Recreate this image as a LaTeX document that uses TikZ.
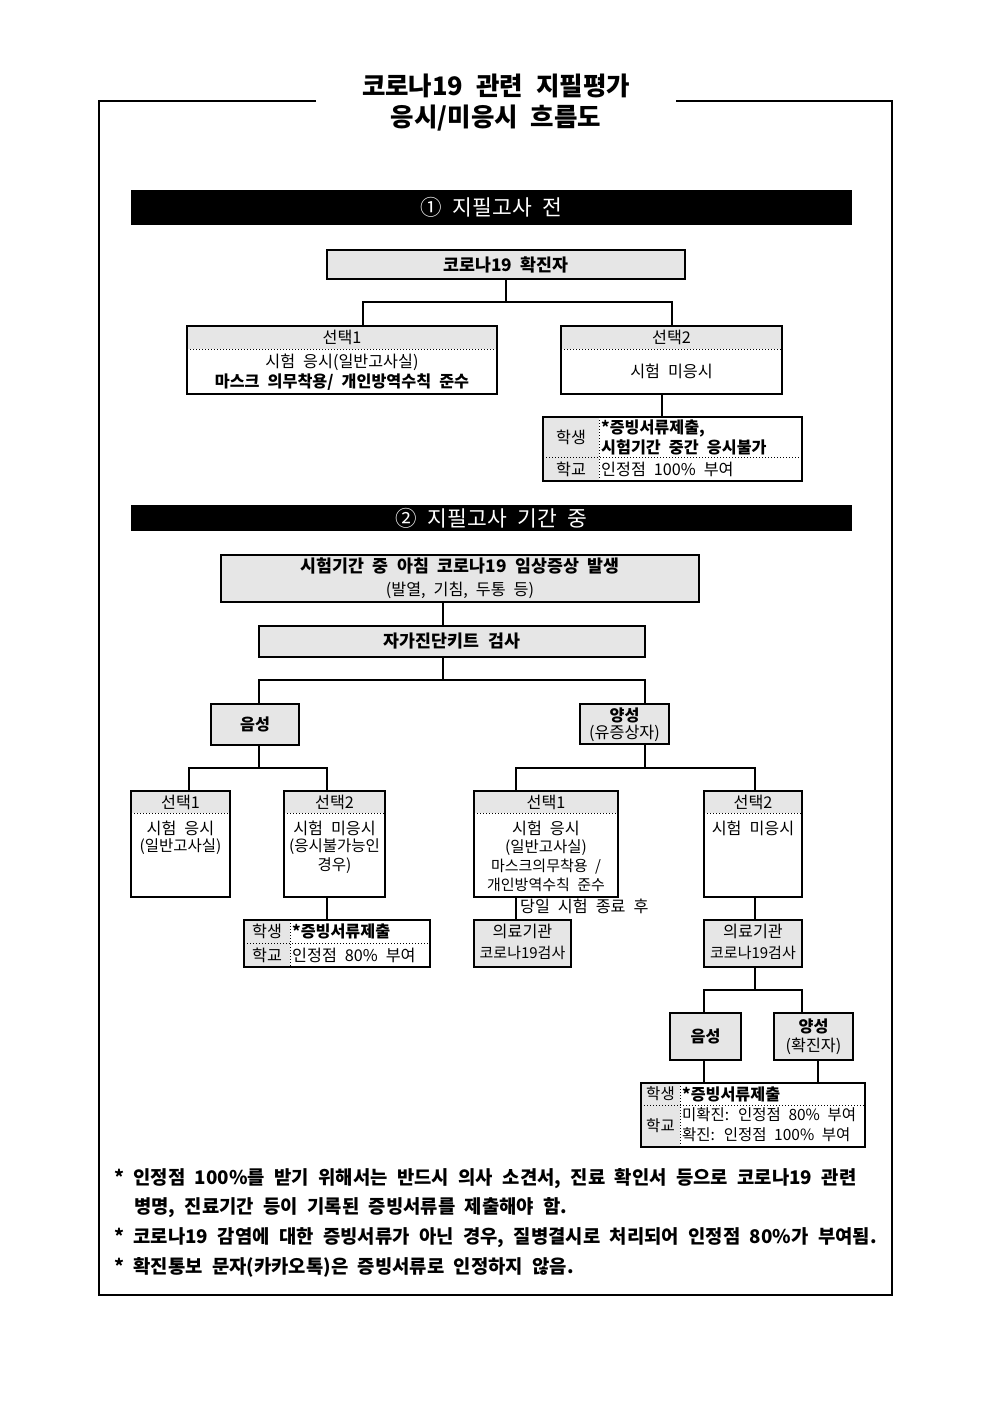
\documentclass[tikz,border=0pt]{standalone}
\usepackage{fontspec}
\setmainfont{Noto Sans CJK KR}[WordSpace=2.2]
\definecolor{bg}{HTML}{E6E6E6}
\begin{document}
\begin{tikzpicture}[x=1pt,y=-1pt,
 bx/.style={draw, line width=2.2pt, inner sep=0pt},
 gbx/.style={bx, fill=bg},
 conn/.style={line width=2pt},
 dots/.style={line width=1pt, dash pattern=on 1.2pt off 1.8pt},
 t/.style={inner sep=0pt, font=\fontsize{16.2}{19}\selectfont},
 tn/.style={inner sep=0pt, font=\fontsize{15.5}{18}\selectfont},
 tb/.style={inner sep=0pt, font=\fontsize{16.2}{19}\selectfont\bfseries},
 th/.style={inner sep=0pt, font=\fontsize{17.3}{20}\selectfont\bfseries},
 ts/.style={inner sep=0pt, font=\fontsize{15}{17}\selectfont},
 tl/.style={inner sep=0pt, font=\fontsize{25.5}{30}\selectfont\bfseries},
 fn/.style={inner sep=0pt, anchor=west, font=\fontsize{18.8}{22}\selectfont\bfseries},
 bar/.style={fill=black, inner sep=0pt, minimum width=721pt, text=white, font=\fontsize{21.5}{24}\selectfont},
]
\useasboundingbox (0,0) rectangle (992,1403);
% frame and title
\draw[line width=1.2pt] (316,101) -- (99,101) -- (99,1295) -- (892,1295) -- (892,101) -- (676,101);
\node[tl] (title1) at (496,86) {코로나19 관련 지필평가};
\node[tl] (title2) at (496,118) {응시/미응시 흐름도};
% bars
\node[bar, minimum height=35pt] (bar1) at (491.5,207.5) {① 지필고사 전};
\node[bar, minimum height=26pt] (bar2) at (491.5,518) {② 지필고사 기간 중};

% ---------- section 1 ----------
\fill[bg] (187,326) rectangle (497,349);
\fill[bg] (561,326) rectangle (782,349);
\fill[bg] (543,417) rectangle (599,481);
\node[gbx, th, minimum width=358pt, minimum height=29pt] (conf) at (506,264.5) {코로나19 확진자};
\node[bx, minimum width=310pt, minimum height=68pt] (s1) at (342,360) {};
\node[bx, minimum width=221pt, minimum height=68pt] (s2) at (671.5,360) {};
\node[bx, minimum width=259pt, minimum height=64pt] (st1) at (672.5,449) {};
\draw[dots] (187,349) -- (497,349);
\draw[dots] (561,349) -- (782,349);
\draw[dots] (543,457) -- (802,457);
\draw[dots] (599,417) -- (599,481);
\node[t] at (342,337.5) {선택1};
\node[t] at (342,362) {시험 응시(일반고사실)};
\node[tb] at (342,382) {마스크 의무착용/ 개인방역수칙 준수};
\node[t] at (671.5,337.5) {선택2};
\node[t] at (671.5,371) {시험 미응시};
\node[t] at (571,437) {학생};
\node[t] at (571,469) {학교};
\node[tb, anchor=west] at (601,428) {*증빙서류제출,};
\node[tb, anchor=west] at (601,447) {시험기간 중간 응시불가};
\node[t, anchor=west] at (601,469) {인정점 100\% 부여};
\coordinate (j1) at (506,302);
\draw[conn] (conf.south) -- (j1);
\draw[conn] (j1) -| ([xshift=21pt]s1.north);
\draw[conn] (j1) -| (s2.north);
\coordinate (c1) at ([xshift=-10pt]s2.south);
\draw[conn] (c1) -- (c1 |- st1.north);

% ---------- section 2 ----------
\node[gbx, minimum width=478pt, minimum height=47pt] (sym) at (460,578.5) {};
\node[th] at (460,566) {시험기간 중 아침 코로나19 임상증상 발생};
\node[t] at (460,590) {(발열, 기침, 두통 등)};
\node[gbx, th, minimum width=386pt, minimum height=31pt] (kit) at (452,641.5) {자가진단키트 검사};
\coordinate (c2) at ([xshift=-17pt]sym.south);
\draw[conn] (c2) -- (c2 |- kit.north);
\node[gbx, tb, minimum width=88pt, minimum height=41pt] (neg) at (255,724.5) {음성};
\node[gbx, minimum width=89pt, minimum height=40pt] (pos) at (624.5,724) {};
\node[tb] at (624.5,715) {양성};
\node[t] at (624.5,733) {(유증상자)};
\coordinate (j2) at (443,680);
\draw[conn] ([xshift=-9pt]kit.south) -- (j2);
\draw[conn] (j2) -| ([xshift=4pt]neg.north);
\draw[conn] (j2) -| ([xshift=20.5pt]pos.north);

\fill[bg] (131,791) rectangle (230,813);
\fill[bg] (284,791) rectangle (385,813);
\fill[bg] (474,791) rectangle (618,813);
\fill[bg] (704,791) rectangle (802,813);
\fill[bg] (244,920) rectangle (290,967);
\fill[bg] (641,1083) rectangle (680,1147);
\node[bx, minimum width=99pt, minimum height=106pt] (a1) at (180.5,844) {};
\node[bx, minimum width=101pt, minimum height=106pt] (a2) at (334.5,844) {};
\node[bx, minimum width=186pt, minimum height=47pt] (st2) at (337,943.5) {};
\node[bx, minimum width=144pt, minimum height=106pt] (b1) at (546,844) {};
\node[bx, minimum width=98pt, minimum height=106pt] (b2) at (753,844) {};
\node[gbx, minimum width=97pt, minimum height=47pt] (m1) at (522.5,943.5) {};
\node[gbx, minimum width=98pt, minimum height=47pt] (m2) at (753,943.5) {};
\node[gbx, tb, minimum width=71pt, minimum height=47pt] (n2) at (705.5,1036.5) {음성};
\node[gbx, minimum width=79pt, minimum height=47pt] (p2) at (813.5,1036.5) {};
\node[bx, minimum width=224pt, minimum height=64pt] (st3) at (753,1115) {};
\draw[dots] (131,813) -- (230,813);
\draw[dots] (284,813) -- (385,813);
\draw[dots] (474,813) -- (618,813);
\draw[dots] (704,813) -- (802,813);
\draw[dots] (244,943) -- (430,943);
\draw[dots] (290,920) -- (290,967);
\draw[dots] (641,1105) -- (865,1105);
\draw[dots] (680,1083) -- (680,1147);

\node[t] at (180.5,802) {선택1};
\node[t] at (180.5,828) {시험 응시};
\node[tn] at (180.5,847) {(일반고사실)};
\node[t] at (334.5,802) {선택2};
\node[t] at (334.5,828) {시험 미응시};
\node[tn] at (334.5,847) {(응시불가능인};
\node[tn] at (334.5,866) {경우)};
\node[t] at (267,931) {학생};
\node[t] at (267,955) {학교};
\node[tb, anchor=west] at (292,931) {*증빙서류제출};
\node[t, anchor=west] at (292,955) {인정점 80\% 부여};
\node[t] at (546,802) {선택1};
\node[t] at (546,828) {시험 응시};
\node[tn] at (546,848) {(일반고사실)};
\node[ts] at (546,867) {마스크의무착용 /};
\node[ts] at (546,885) {개인방역수칙 준수};
\node[t] at (753,802) {선택2};
\node[t] at (753,828) {시험 미응시};
\node[t] at (522.5,931) {의료기관};
\node[ts] at (522.5,953) {코로나19검사};
\node[t] at (753,931) {의료기관};
\node[ts] at (753,953) {코로나19검사};
\node[tb] at (813.5,1026) {양성};
\node[t] at (813.5,1046) {(확진자)};
\node[tn] at (660.5,1094) {학생};
\node[tn] at (660.5,1126) {학교};
\node[tb, anchor=west] at (682,1094) {*증빙서류제출};
\node[tn, anchor=west] at (682,1115) {미확진: 인정점 80\% 부여};
\node[tn, anchor=west] at (682,1135) {확진: 인정점 100\% 부여};

\coordinate (j3) at (259,768);
\draw[conn] ([xshift=4pt]neg.south) -- (j3);
\draw[conn] (j3) -| ([xshift=8.5pt]a1.north);
\draw[conn] (j3) -| ([xshift=-7.5pt]a2.north);
\coordinate (c4) at ([xshift=-7.5pt]a2.south);
\draw[conn] (c4) -- (c4 |- st2.north);
\coordinate (j4) at (645,768);
\draw[conn] ([xshift=20.5pt]pos.south) -- (j4);
\draw[conn] (j4) -| ([xshift=-30pt]b1.north);
\draw[conn] (j4) -| ([xshift=2pt]b2.north);
\coordinate (c5) at ([xshift=-30pt]b1.south);
\draw[conn] (c5) -- (c5 |- m1.north);
\node[t, anchor=west] (lbl) at (520,906) {당일 시험 종료 후};
\coordinate (c6) at ([xshift=2pt]b2.south);
\draw[conn] (c6) -- (c6 |- m2.north);
\coordinate (j5) at (755,990);
\draw[conn] ([xshift=2pt]m2.south) -- (j5);
\draw[conn] (j5) -| ([xshift=-1.5pt]n2.north);
\draw[conn] (j5) -| ([xshift=-11.5pt]p2.north);
\coordinate (c7) at ([xshift=-1.5pt]n2.south);
\draw[conn] (c7) -- (c7 |- st3.north);
\coordinate (c8) at ([xshift=4.5pt]p2.south);
\draw[conn] (c8) -- (c8 |- st3.north);

% footnotes
\node[fn] (f1) at (114,1179) {* 인정점 100\%를 받기 위해서는 반드시 의사 소견서, 진료 확인서 등으로 코로나19 관련};
\node[fn] (f2) at (134,1208) {병명, 진료기간 등이 기록된 증빙서류를 제출해야 함.};
\node[fn] (f3) at (114,1238) {* 코로나19 감염에 대한 증빙서류가 아닌 경우, 질병결시로 처리되어 인정점 80\%가 부여됨.};
\node[fn] (f4) at (114,1267) {* 확진통보 문자(카카오톡)은 증빙서류로 인정하지 않음.};
\end{tikzpicture}
\end{document}
